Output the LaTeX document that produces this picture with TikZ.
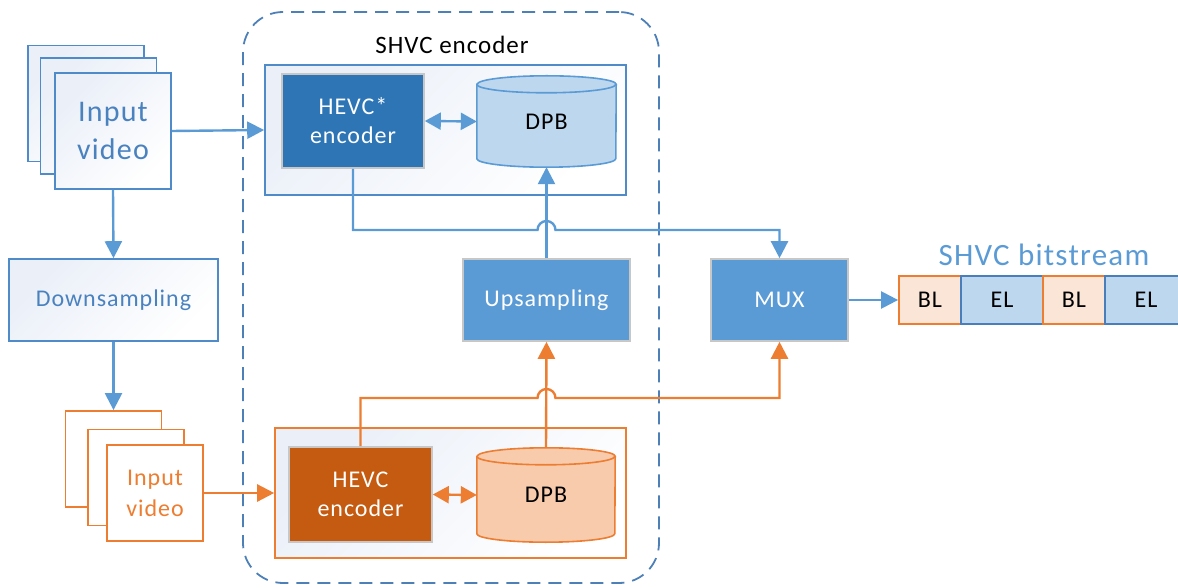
\documentclass[tikz,border=0pt]{standalone}
\usepackage{fontspec}
\setmainfont{Carlito}[LetterSpace=4]
\usetikzlibrary{arrows.meta,calc}
\definecolor{lineblue}{HTML}{5B9BD5}
\definecolor{frameblue}{HTML}{4F8BC9}
\definecolor{dashblue}{HTML}{4E80B8}
\definecolor{textblue}{HTML}{4A82C0}
\definecolor{shadeblue}{HTML}{EAEFF8}
\definecolor{orangeline}{HTML}{ED7D31}
\definecolor{encblue}{HTML}{2E75B6}
\definecolor{encorange}{HTML}{C55A11}
\definecolor{dpbblue}{HTML}{BDD7EE}
\definecolor{dpborange}{HTML}{F8CBAD}
\definecolor{blfill}{HTML}{FBE5D6}
\definecolor{elborder}{HTML}{4A7EBB}
\newcommand\labfont{\fontsize{24}{29}\selectfont}
\newcommand\bigfont{\fontsize{30}{36}\selectfont}
\begin{document}
\begin{tikzpicture}[x=1pt,y=1pt,
  fb/.style={draw=frameblue, line width=1.8pt, top color=shadeblue, bottom color=white, shading angle=45, minimum width=116pt, minimum height=116pt, inner sep=0pt},
  fo/.style={draw=orangeline, line width=1.8pt, fill=white, minimum width=96pt, minimum height=96pt, inner sep=0pt},
  bigbox/.style={line width=1.6pt, top color=shadeblue, bottom color=white, shading angle=45, inner sep=0pt},
  solidbox/.style={draw=black!22, line width=1.6pt, text=white, inner sep=0pt, align=center, font=\labfont},
  cylnode/.style={minimum width=139pt, minimum height=91pt, inner sep=0pt, font=\labfont},
  bconn/.style={draw=lineblue, line width=2.4pt},
  oconn/.style={draw=orangeline, line width=2.4pt},
  tip/.style={-{Triangle[length=17pt,width=17pt]}},
  dtip/.style={{Triangle[length=16pt,width=17pt]}-{Triangle[length=16pt,width=17pt]}},
  seg/.style={line width=1.8pt, minimum height=48pt, inner sep=0pt, font=\labfont}
]
\useasboundingbox (0,0) rectangle (1178,587);

% dashed SHVC encoder frame
\node[draw=dashblue, line width=1.8pt, dash pattern=on 13pt off 8pt, rounded corners=40pt,
      minimum width=416pt, minimum height=571pt, inner sep=0pt] (shvc) at (451,289.5) {};
\node[font=\fontsize{25}{30}\selectfont, text=black] (shvclab) at (452,542) {SHVC encoder};

% top input video stack
\node[fb] (tin3) at (86,483.5) {};
\node[fb] (tin2) at (98.5,471) {};
\node[fb, text=textblue, font=\bigfont, align=center] (tin) at (113,456) {Input\\[2pt]video};

% downsampling
\node[bigbox, draw=frameblue, minimum width=209pt, minimum height=82pt, text=textblue, font=\labfont] (down) at (113.5,287) {Downsampling};

% bottom input video stack
\node[fo] (bin3) at (113.5,128) {};
\node[fo] (bin2) at (136,109.5) {};
\node[fo, text=orangeline, font=\labfont, align=center] (bin) at (155,94) {Input\\[2pt]video};

% enhancement layer box
\node[bigbox, draw=frameblue, minimum width=361pt, minimum height=130pt] (elbox) at (445.5,457) {};
\node[solidbox, fill=encblue, minimum width=142pt, minimum height=94pt] (hevcs) at (353,466) {HEVC*\\encoder};
\node[cylnode] (dpb) at (546.5,465.5) {};
\filldraw[fill=dpbblue, draw=lineblue, line width=1.6pt]
  ($(dpb.north west)+(0,-8.5)$) -- ($(dpb.south west)+(0,8.5)$) arc (180:360:69.5 and 8.5)
  -- ($(dpb.north east)+(0,-8.5)$) arc (0:180:69.5 and 8.5) -- cycle;
\draw[draw=lineblue, line width=1.6pt] ($(dpb.north west)+(0,-8.5)$) arc (180:360:69.5 and 8.5);
\node[font=\labfont] at (dpb) {DPB};

% base layer box
\node[bigbox, draw=orangeline, minimum width=351pt, minimum height=130pt] (blbox) at (450.5,94) {};
\node[solidbox, fill=encorange, minimum width=143pt, minimum height=95pt] (hevco) at (360.5,92.5) {HEVC\\encoder};
\node[cylnode, minimum width=138pt, minimum height=94pt] (dpbo) at (546,92) {};
\filldraw[fill=dpborange, draw=orangeline, line width=1.6pt]
  ($(dpbo.north west)+(0,-8.5)$) -- ($(dpbo.south west)+(0,8.5)$) arc (180:360:69 and 8.5)
  -- ($(dpbo.north east)+(0,-8.5)$) arc (0:180:69 and 8.5) -- cycle;
\draw[draw=orangeline, line width=1.6pt] ($(dpbo.north west)+(0,-8.5)$) arc (180:360:69 and 8.5);
\node[font=\labfont] at (dpbo) {DPB};

% upsampling and mux
\node[solidbox, fill=lineblue, minimum width=167pt, minimum height=82pt] (up) at (546.5,287) {Upsampling};
\node[solidbox, fill=lineblue, minimum width=137pt, minimum height=82pt] (mux) at (779.5,287) {MUX};

% bitstream
\node[font=\fontsize{31}{37}\selectfont, text=lineblue] (bslab) at (1044,332) {SHVC bitstream};
\node[seg, draw=orangeline, fill=blfill, minimum width=62pt] (bl1) at (930,287) {BL};
\node[seg, draw=elborder, fill=dpbblue, minimum width=82pt] (el1) at (1002,287) {EL};
\node[seg, draw=orangeline, fill=blfill, minimum width=62pt] (bl2) at (1074,287) {BL};
\node[seg, draw=elborder, fill=dpbblue, minimum width=82pt] (el2) at (1146,287) {EL};

% connectors
\coordinate (bline) at (0,357);
\coordinate (oline) at (0,189);
\draw[bconn, tip] (tin.east) -- (elbox.west);
\draw[bconn, tip] (tin.south) -- (down.north);
\draw[bconn, tip] (down.south) -- (bin3.north);
\draw[oconn, tip] (bin.east) -- (blbox.west);
\draw[bconn, dtip] (hevcs.east) -- (dpb.west);
\draw[oconn, dtip] (hevco.east) -- (dpbo.west);
\draw[bconn, tip] (up.north) -- (dpb.south);
\draw[oconn, tip] (dpbo.north) -- (up.south);
\draw[bconn, tip] (hevcs.south) -- (hevcs.south |- bline) -- ($(up.north |- bline)+(-9,0)$) arc (180:0:9) -- (mux.north |- bline) -- (mux.north);
\draw[oconn, tip] (hevco.north) -- (hevco.north |- oline) -- ($(up.south |- oline)+(-9,0)$) arc (180:0:9) -- (mux.south |- oline) -- (mux.south);
\draw[bconn, tip] (mux.east) -- (bl1.west);
\end{tikzpicture}
\end{document}
